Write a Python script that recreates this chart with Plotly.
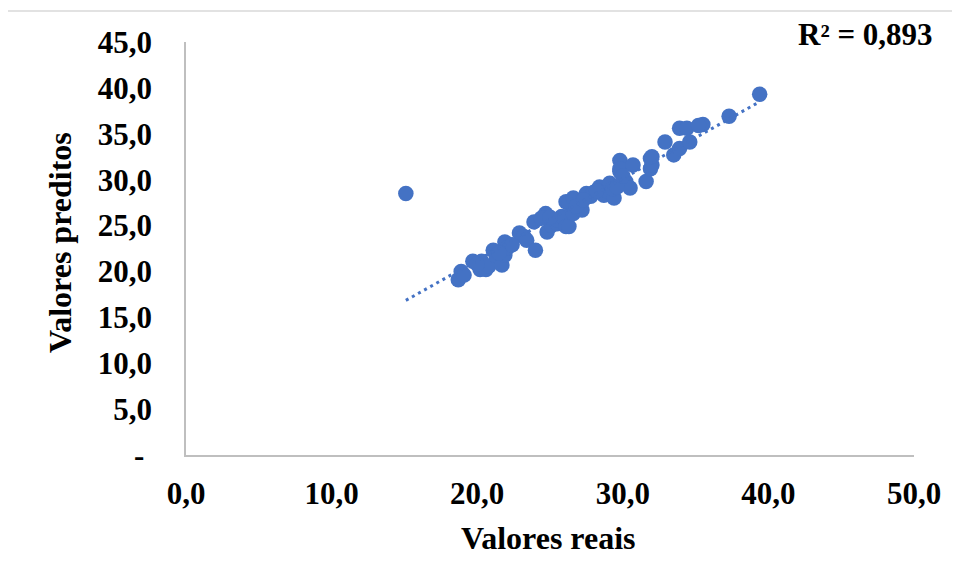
import numpy as np
import plotly.graph_objects as go

# Data
valores_reais = [15.1, 18.7, 18.9, 19.1, 19.7, 20.2, 20.6, 20.3, 20.8, 21.1, 21.3, 21.7,
                 21.9, 21.9, 22.1, 22.9, 23.2, 23.4, 24.0, 23.9, 24.7, 24.8, 25.1, 25.5,
                 25.5, 25.8, 26.1, 26.3, 26.1, 26.3, 26.6, 26.6, 26.9, 27.2, 27.0, 27.5,
                 27.8, 28.0, 28.4, 28.7, 28.9, 29.1, 29.4, 29.3, 29.8, 29.8, 29.8, 30.2,
                 30.5, 30.7, 31.6, 31.9, 31.9, 32.0, 32.0, 32.9, 33.5, 33.9, 33.9, 34.4,
                 34.6, 35.5, 35.2, 37.3, 39.4, 22.4, 24.4, 25.0, 26.8, 27.3, 28.2, 29.6,
                 30.0, 21.5, 20.0]
valores_preditos = [28.5, 19.1, 20.0, 19.6, 21.1, 20.2, 20.2, 21.1, 20.6, 22.3, 21.7, 20.7,
                    23.2, 21.8, 22.6, 24.2, 23.8, 23.4, 22.3, 25.4, 26.3, 24.3, 25.0, 25.2,
                    25.6, 26.0, 24.9, 24.9, 27.6, 27.4, 28.0, 26.3, 26.9, 26.7, 27.5, 28.5,
                    28.2, 28.6, 29.2, 28.3, 28.8, 29.6, 28.0, 29.0, 32.1, 30.9, 31.2, 29.8,
                    29.1, 31.6, 29.8, 31.2, 32.3, 31.6, 32.5, 34.1, 32.7, 33.4, 35.6, 35.6,
                    34.1, 36.0, 35.9, 36.9, 39.3, 22.9, 25.8, 25.9, 27.1, 27.8, 28.8, 29.2,
                    30.4, 22.0, 20.8]

x_tickvals = [0, 10, 20, 30, 40, 50]
x_ticktext = ["0,0", "10,0", "20,0", "30,0", "40,0", "50,0"]
y_tickvals = [0, 5, 10, 15, 20, 25, 30, 35, 40, 45]
y_ticktext = ["-\u00a0", "5,0", "10,0", "15,0", "20,0", "25,0", "30,0", "35,0", "40,0", "45,0"]
r2_label = "R² = 0,893"
x_title = "Valores reais"
y_title = "Valores preditos"

BLUE = "#4472C4"
FONT = "Liberation Serif"

xa = np.array(valores_reais)
ya = np.array(valores_preditos)
slope, intercept = np.polyfit(xa, ya, 1)
tx = np.array([xa.min(), xa.max()])
ty = slope * tx + intercept

fig = go.Figure()
fig.add_trace(go.Scatter(x=valores_reais, y=valores_preditos, mode="markers",
                         marker=dict(size=15.5, color=BLUE, line=dict(width=0)),
                         showlegend=False, hoverinfo="skip"))
fig.add_trace(go.Scatter(x=tx, y=ty, mode="lines",
                         line=dict(color=BLUE, width=3, dash="3px,4px"),
                         showlegend=False, hoverinfo="skip"))

# page offset (browser body margin)
OFF = 8
W, H = 952, 570
PL, PR, PT, PB = 186, 914, 42, 455  # plot area in page pixels
L, T = PL - OFF, PT - OFF
R = W - (PR - OFF)
B = H - (PB - OFF)
pw, ph = PR - PL, PB - PT

def px(xp):
    return (xp - PL) / pw

def py(yp):
    return (PB - yp) / ph

tickfont = dict(family=FONT, size=31, color="black", weight="bold")

fig.update_layout(
    width=W, height=H, margin=dict(l=L, r=R, t=T, b=B),
    paper_bgcolor="white", plot_bgcolor="white",
    xaxis=dict(range=[0, 50], tickvals=x_tickvals, ticktext=x_ticktext,
               showgrid=False, zeroline=False, showline=True, linecolor="#BFBFBF",
               linewidth=1.5, ticks="", tickfont=tickfont, ticklabelstandoff=10),
    yaxis=dict(range=[0, 45], tickvals=y_tickvals, ticktext=y_ticktext,
               showgrid=False, zeroline=False, showline=True, linecolor="#BFBFBF",
               linewidth=1.5, ticks="", tickfont=tickfont, ticklabelstandoff=26),
    annotations=[
        dict(text=x_title, xref="paper", yref="paper", x=px(548), y=py(538),
             showarrow=False, xanchor="center", yanchor="middle",
             font=dict(family=FONT, size=32, color="black", weight="bold")),
        dict(text=y_title, xref="paper", yref="paper", x=px(60), y=py(243),
             showarrow=False, xanchor="center", yanchor="middle", textangle=-90,
             font=dict(family=FONT, size=32, color="black", weight="bold")),
        dict(text=r2_label, xref="paper", yref="paper", x=px(935), y=py(34),
             showarrow=False, xanchor="right", yanchor="middle",
             font=dict(family=FONT, size=31, color="black", weight="bold")),
    ],
    shapes=[
        dict(type="line", xref="paper", yref="paper", x0=px(7), x1=px(970),
             y0=py(11), y1=py(11), line=dict(color="#D9D9D9", width=1.5)),
        dict(type="line", xref="paper", yref="paper", x0=px(7), x1=px(7),
             y0=py(11), y1=py(590), line=dict(color="#D9D9D9", width=1.5)),
    ],
)

fig.write_html("out.html")
